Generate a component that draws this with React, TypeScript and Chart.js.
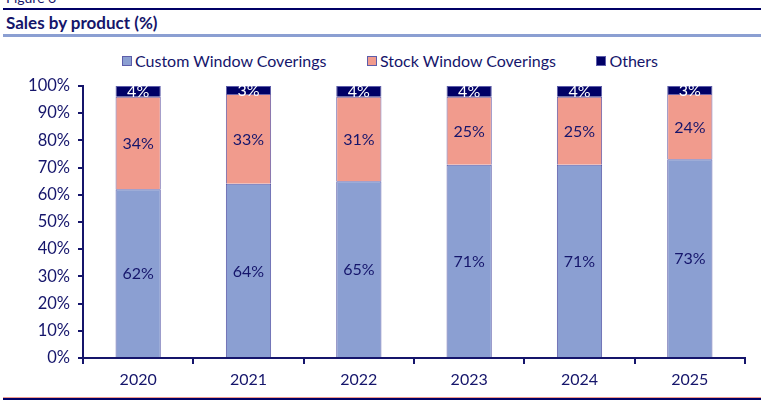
import React, { useEffect, useRef } from "react";
import { Chart, registerables } from "chart.js";

Chart.register(...registerables);

const categories = ["2020", "2021", "2022", "2023", "2024", "2025"];
const customValues = [62, 64, 65, 71, 71, 73];
const stockValues = [34, 33, 31, 25, 25, 24];
const othersValues = [4, 3, 4, 4, 4, 3];
const seriesNames = ["Custom Window Coverings", "Stock Window Coverings", "Others"];
const seriesColors = ["#8b9fd2", "#f19b8d", "#000066"];
const yTicks = [0, 10, 20, 30, 40, 50, 60, 70, 80, 90, 100];

const NAVY = "#15156b";
const FONT = "Lato, 'Noto Sans', sans-serif";

const labelPlugin = {
  id: "segLabels",
  afterDatasetsDraw(chart: any) {
    const ctx = chart.ctx;
    ctx.save();
    ctx.font = `16px ${FONT}`;
    ctx.textAlign = "center";
    ctx.textBaseline = "middle";
    chart.data.datasets.forEach((ds: any, di: number) => {
      const meta = chart.getDatasetMeta(di);
      meta.data.forEach((el: any, i: number) => {
        const v = ds.data[i];
        const cy = (el.y + el.base) / 2;
        ctx.fillStyle = di === 2 ? "#ffffff" : NAVY;
        ctx.fillText(`${v}%`, el.x, cy + 1);
      });
    });
    ctx.restore();
  },
};

export default function App() {
  const ref = useRef<HTMLCanvasElement>(null);
  useEffect(() => {
    const prevMargin = document.body.style.margin;
    document.body.style.margin = "0";
    const chart = new Chart(ref.current!, {
      type: "bar",
      data: {
        labels: categories,
        datasets: [
          { label: seriesNames[0], data: customValues, backgroundColor: seriesColors[0], borderColor: "#5d5daa", borderWidth: 1 },
          { label: seriesNames[1], data: stockValues, backgroundColor: seriesColors[1], borderColor: "#6d62a8", borderWidth: 1 },
          { label: seriesNames[2], data: othersValues, backgroundColor: seriesColors[2], borderColor: "#5d5daa", borderWidth: 1 },
        ],
      },
      options: {
        animation: false,
        responsive: false,
        devicePixelRatio: 1,
        layout: { padding: { left: 0, right: 16, top: 10, bottom: 0 } },
        datasets: { bar: { barPercentage: 0.41, categoryPercentage: 1 } },
        plugins: {
          legend: { display: false },
          tooltip: { enabled: false },
        },
        scales: {
          x: {
            stacked: true,
            offset: true,
            grid: { display: true, drawOnChartArea: false, offset: true, color: NAVY, lineWidth: 2, tickLength: 6, tickColor: NAVY },
            border: { color: NAVY, width: 2 },
            ticks: { color: NAVY, font: { family: FONT, size: 16 }, padding: 6 },
            afterFit(s: any) { s.height = 32; },
          },
          y: {
            stacked: true,
            min: 0,
            max: 100,
            afterBuildTicks(s: any) { s.ticks = yTicks.map((v) => ({ value: v })); },
            grid: { display: true, drawOnChartArea: false, color: NAVY, lineWidth: 2, tickLength: 5, tickColor: NAVY },
            border: { color: NAVY, width: 2 },
            ticks: { color: NAVY, font: { family: FONT, size: 16.5 }, padding: 8, callback: (v: any) => `${v}%` },
            afterFit(s: any) { s.width = 83; },
          },
        },
      },
      plugins: [labelPlugin],
    });
    return () => {
      chart.destroy();
      document.body.style.margin = prevMargin;
    };
  }, []);

  return (
    <div style={{ position: "absolute", left: 0, top: 0, width: 761, height: 403, overflow: "hidden", background: "#fff", fontFamily: FONT, color: NAVY }}>
      <div style={{ position: "absolute", left: 6, top: -11, fontSize: 14 }}>Figure 6</div>
      <div style={{ position: "absolute", left: 3, right: 0, top: 8, height: 2, background: "#000066" }} />
      <div style={{ position: "absolute", left: 6, top: 12, fontSize: 17, fontWeight: 700 }}>Sales by product (%)</div>
      <div style={{ position: "absolute", left: 3, right: 0, top: 34, height: 3, background: "#8b9fd2" }} />
      <div style={{ position: "absolute", left: 122, top: 51, height: 20, display: "flex", alignItems: "center", fontSize: 16, lineHeight: "20px", whiteSpace: "nowrap" }}>
        {seriesNames.map((n, i) => (
          <div key={n} style={{ display: "flex", alignItems: "center", marginRight: i < seriesNames.length - 1 ? 40.5 : 0 }}>
            <span style={{ display: "inline-block", width: 8, height: 8, background: seriesColors[i], border: "1px solid #5d5daa", marginRight: 3 }} />
            <span>{n}</span>
          </div>
        ))}
      </div>
      <canvas ref={ref} width={761} height={322} style={{ position: "absolute", left: 0, top: 68, width: 761, height: 322 }} />
      <div style={{ position: "absolute", left: 3, right: 0, top: 397, height: 1, background: "#f19b8d" }} />
      <div style={{ position: "absolute", left: 3, right: 0, top: 398, height: 2, background: "#000066" }} />
    </div>
  );
}
